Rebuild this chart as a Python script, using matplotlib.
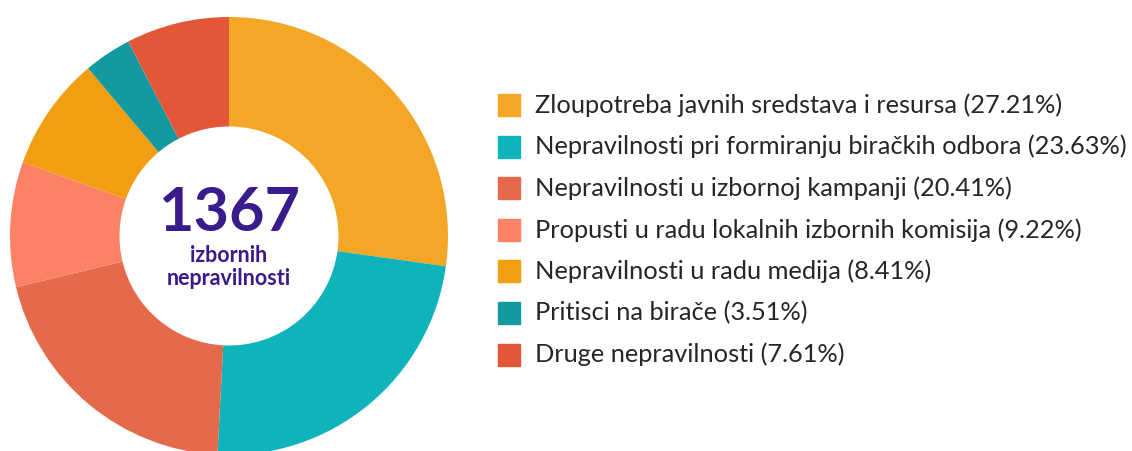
import matplotlib.pyplot as plt
from matplotlib.patches import Rectangle

# data
categories = ['Zloupotreba javnih sredstava i resursa',
              'Nepravilnosti pri formiranju biračkih odbora',
              'Nepravilnosti u izbornoj kampanji',
              'Propusti u radu lokalnih izbornih komisija',
              'Nepravilnosti u radu medija',
              'Pritisci na birače',
              'Druge nepravilnosti']
shares = [27.21, 23.63, 20.41, 9.22, 8.41, 3.51, 7.61]
total = 1367
colors = ['#F4A626', '#11B3BA', '#E5694B', '#FB8264', '#F19E12', '#13999E', '#E35638']

W, H = 1132, 451
fig = plt.figure(figsize=(W / 100, H / 100), dpi=100)
plt.rcParams['font.family'] = ['Lato', 'DejaVu Sans']

# donut
ax = fig.add_axes([10 / W, -4 / H, 438 / W, 438 / H])
ax.pie(shares, colors=colors, startangle=90, counterclock=False,
       wedgeprops=dict(width=0.5, edgecolor='none'))
ax.set_xlim(-1, 1)
ax.set_ylim(-1, 1)
ax.set_aspect('equal')

purple = '#3B1A8C'
ax.text(0, 0.105, str(total), ha='center', va='center', fontsize=44,
        fontweight='bold', color=purple)
ax.text(0, -0.087, 'izbornih', ha='center', va='center', fontsize=15.5,
        fontweight='bold', color=purple)
ax.text(0, -0.192, 'nepravilnosti', ha='center', va='center', fontsize=15.5,
        fontweight='bold', color=purple)

# legend drawn by hand
y0, dy = 105, 41.6
for i, (cat, val) in enumerate(zip(categories, shares)):
    y = y0 + i * dy
    fig.patches.append(Rectangle((498 / W, 1 - (y + 11) / H), 22 / W, 22 / H,
                                 transform=fig.transFigure, color=colors[i]))
    fig.text(535 / W, 1 - y / H, '%s (%.2f%%)' % (cat, val), ha='left',
             va='center', fontsize=18.3, color='#262626')

fig.savefig('out.png', dpi=100)
